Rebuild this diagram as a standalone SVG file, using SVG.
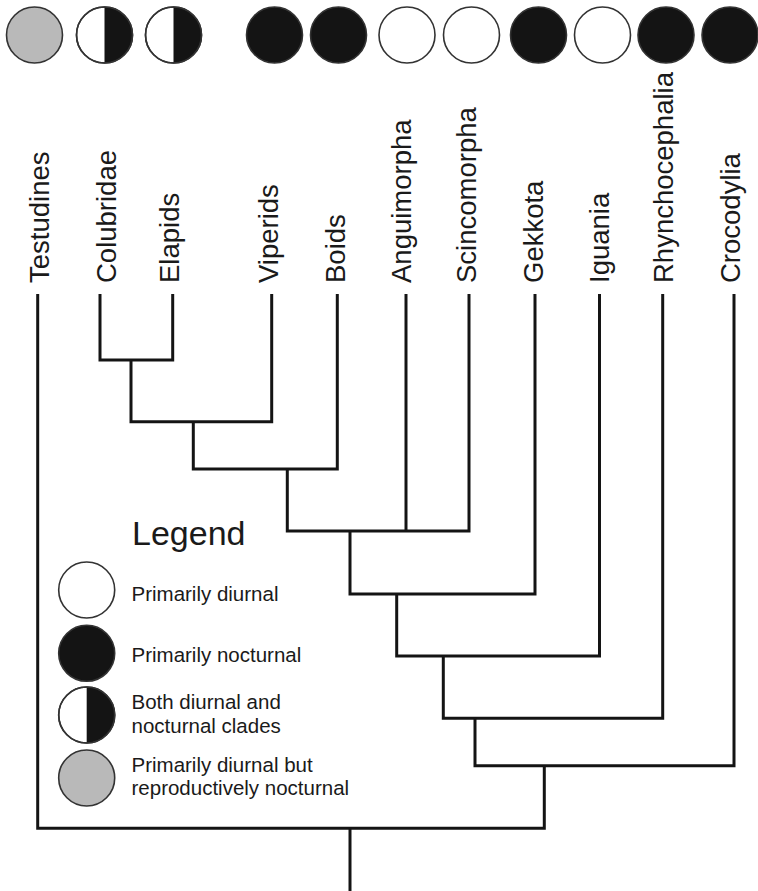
<svg xmlns="http://www.w3.org/2000/svg" width="758" height="891" viewBox="0 0 758 891">
<defs>
<style>
.lbl{font-family:"Liberation Sans",Arial,sans-serif;font-size:27.5px;fill:#1a1a1a}
.leg{font-family:"Liberation Sans",Arial,sans-serif;font-size:20.5px;fill:#1a1a1a}
.title{font-family:"Liberation Sans",Arial,sans-serif;font-size:34px;fill:#1a1a1a}
.c{stroke:#333;stroke-width:1.6}
.w{fill:#fff}
.b{fill:#141414}
.g{fill:#b9b9b9}
.h{fill:#141414;stroke:none}
.o{fill:none;stroke:#333;stroke-width:1.6}
.tree{fill:none;stroke:#141414;stroke-width:3;stroke-linejoin:miter;stroke-linecap:butt}
</style>
</defs>
<rect width="758" height="891" fill="#fff"/>

<g id="testudines">
<circle class="c g" cx="34.5" cy="35" r="28"/>
<text class="lbl" transform="translate(48.5,283) rotate(-90)">Testudines</text>
</g>
<g id="colubridae">
<circle class="c w" cx="104.5" cy="35" r="28"/>
<path class="h" d="M104.5,7 A28,28 0 0 1 104.5,63 Z"/>
<circle class="o" cx="104.5" cy="35" r="28"/>
<text class="lbl" transform="translate(116,283) rotate(-90)">Colubridae</text>
</g>
<g id="elapids">
<circle class="c w" cx="173.5" cy="35" r="28"/>
<path class="h" d="M173.5,7 A28,28 0 0 1 173.5,63 Z"/>
<circle class="o" cx="173.5" cy="35" r="28"/>
<text class="lbl" transform="translate(179,283) rotate(-90)">Elapids</text>
</g>
<g id="viperids">
<circle class="c b" cx="274.5" cy="35" r="28"/>
<text class="lbl" transform="translate(277.5,283) rotate(-90)">Viperids</text>
</g>
<g id="boids">
<circle class="c b" cx="338.5" cy="35" r="28"/>
<text class="lbl" transform="translate(345,283) rotate(-90)">Boids</text>
</g>
<g id="anguimorpha">
<circle class="c w" cx="407" cy="35" r="28"/>
<text class="lbl" transform="translate(411,283) rotate(-90)">Anguimorpha</text>
</g>
<g id="scincomorpha">
<circle class="c w" cx="471.5" cy="35" r="28"/>
<text class="lbl" transform="translate(476,283) rotate(-90)">Scincomorpha</text>
</g>
<g id="gekkota">
<circle class="c b" cx="538.5" cy="35" r="28"/>
<text class="lbl" transform="translate(543,283) rotate(-90)">Gekkota</text>
</g>
<g id="iguania">
<circle class="c w" cx="602.5" cy="35" r="28"/>
<text class="lbl" transform="translate(608.5,283) rotate(-90)">Iguania</text>
</g>
<g id="rhynchocephalia">
<circle class="c b" cx="666" cy="35" r="28"/>
<text class="lbl" transform="translate(672.5,283) rotate(-90)">Rhynchocephalia</text>
</g>
<g id="crocodylia">
<circle class="c b" cx="730" cy="35" r="28"/>
<text class="lbl" transform="translate(740,283) rotate(-90)">Crocodylia</text>
</g>

<g id="connectors" class="tree">
<path d="M100,294 V360 H172.7 V294"/>
<path d="M131,360 V421.7 H271.7 V294"/>
<path d="M193.3,421.7 V469 H337.3 V294"/>
<path d="M287.3,469 V531 H469 V294"/>
<path d="M406,294 V531"/>
<path d="M350,531 V594 H535 V294"/>
<path d="M396.7,594 V656 H599.5 V294"/>
<path d="M443.3,656 V718.3 H662.7 V294"/>
<path d="M475,718.3 V765.7 H734 V294"/>
<path d="M544.3,765.7 V828.3 H37.7 V294"/>
<path d="M350,828.3 V891"/>
</g>

<g id="legend">
<text class="title" x="132" y="545">Legend</text>
<circle class="c w" cx="86.7" cy="590" r="28"/>
<text class="leg" x="131.5" y="600.5">Primarily diurnal</text>
<circle class="c b" cx="86.7" cy="653.3" r="28"/>
<text class="leg" x="131.5" y="661.5">Primarily nocturnal</text>
<circle class="c w" cx="86.7" cy="715" r="28"/>
<path class="h" d="M86.7,687 A28,28 0 0 1 86.7,743 Z"/>
<circle class="o" cx="86.7" cy="715" r="28"/>
<text class="leg" x="131.5" y="709.3">Both diurnal and</text>
<text class="leg" x="131.5" y="732.7">nocturnal clades</text>
<circle class="c g" cx="86.7" cy="778" r="28"/>
<text class="leg" x="131.5" y="772.3">Primarily diurnal but</text>
<text class="leg" x="131.5" y="795">reproductively nocturnal</text>
</g>
</svg>
